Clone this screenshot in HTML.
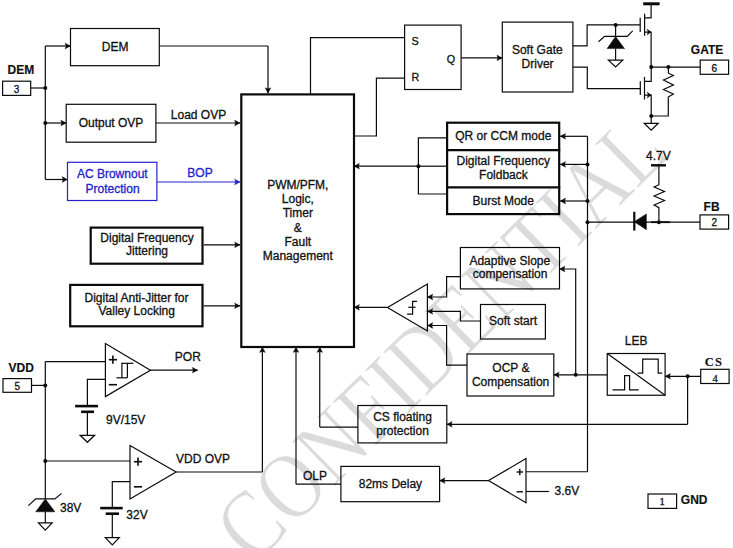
<!DOCTYPE html>
<html><head><meta charset="utf-8"><style>
html,body{margin:0;padding:0;background:#fff;}
body{width:733px;height:548px;overflow:hidden;position:relative;}
svg{position:absolute;left:0;top:0;}
</style></head><body>
<svg width="733" height="548" viewBox="0 0 733 548">
<rect x="0" y="0" width="733" height="548" fill="#fff"/>
<text x="0" y="0" font-family="'Liberation Serif', serif" font-size="100" fill="#dbdbdb" stroke="#fff" stroke-width="1.0" transform="matrix(0.56917,-0.55908,0.66297,0.67802,253.845,565.660)">CONFIDENTIAL</text>
<text x="7.50" y="74.30" font-family="&apos;Liberation Sans&apos;, sans-serif" font-size="12" font-weight="bold" text-anchor="start" fill="#111" stroke="#111" stroke-width="0.15" >DEM</text>
<rect x="2.60" y="81.20" width="28.10" height="14.20" fill="none" stroke="#0a0a0a" stroke-width="1.2"/>
<text x="16.60" y="93.00" font-family="&apos;Liberation Sans&apos;, sans-serif" font-size="10" font-weight="normal" text-anchor="middle" fill="#111" stroke="#111" stroke-width="0.3" >3</text>
<path d="M30.70,88.00 L45.30,88.00" fill="none" stroke="#0a0a0a" stroke-width="1.2" stroke-linejoin="miter" stroke-linecap="butt"/>
<path d="M45.30,46.00 L45.30,179.50" fill="none" stroke="#0a0a0a" stroke-width="1.2" stroke-linejoin="miter" stroke-linecap="butt"/>
<circle cx="45.30" cy="88.00" r="2.0" fill="#0a0a0a"/>
<circle cx="45.30" cy="123.00" r="2.0" fill="#0a0a0a"/>
<path d="M45.30,46.00 L70.50,46.00" fill="none" stroke="#0a0a0a" stroke-width="1.2" stroke-linejoin="miter" stroke-linecap="butt"/>
<polygon points="70.50,46.00 65.10,48.90 66.00,46.00 65.10,43.10" fill="#0a0a0a" stroke="#0a0a0a" stroke-width="0.3" stroke-linejoin="miter"/>
<path d="M45.30,123.00 L66.20,123.00" fill="none" stroke="#0a0a0a" stroke-width="1.2" stroke-linejoin="miter" stroke-linecap="butt"/>
<polygon points="66.20,123.00 60.80,125.90 61.70,123.00 60.80,120.10" fill="#0a0a0a" stroke="#0a0a0a" stroke-width="0.3" stroke-linejoin="miter"/>
<path d="M45.30,179.50 L67.50,179.50" fill="none" stroke="#0a0a0a" stroke-width="1.2" stroke-linejoin="miter" stroke-linecap="butt"/>
<polygon points="67.50,179.50 62.10,182.40 63.00,179.50 62.10,176.60" fill="#0a0a0a" stroke="#0a0a0a" stroke-width="0.3" stroke-linejoin="miter"/>
<rect x="70.50" y="28.50" width="88.80" height="37.20" fill="none" stroke="#0a0a0a" stroke-width="1.2"/>
<text x="115.20" y="51.00" font-family="&apos;Liberation Sans&apos;, sans-serif" font-size="12" font-weight="normal" text-anchor="middle" fill="#111" stroke="#111" stroke-width="0.3" >DEM</text>
<path d="M159.30,46.00 L268.00,46.00" fill="none" stroke="#0a0a0a" stroke-width="1.2" stroke-linejoin="miter" stroke-linecap="butt"/>
<path d="M268.00,46.00 L268.00,93.20" fill="none" stroke="#0a0a0a" stroke-width="1.2" stroke-linejoin="miter" stroke-linecap="butt"/>
<polygon points="268.00,93.20 265.10,87.80 268.00,88.70 270.90,87.80" fill="#0a0a0a" stroke="#0a0a0a" stroke-width="0.3" stroke-linejoin="miter"/>
<rect x="66.20" y="104.30" width="89.70" height="37.90" fill="none" stroke="#0a0a0a" stroke-width="1.2"/>
<text x="111.00" y="127.20" font-family="&apos;Liberation Sans&apos;, sans-serif" font-size="12" font-weight="normal" text-anchor="middle" fill="#111" stroke="#111" stroke-width="0.3" >Output OVP</text>
<path d="M155.90,123.00 L240.00,123.00" fill="none" stroke="#0a0a0a" stroke-width="1.2" stroke-linejoin="miter" stroke-linecap="butt"/>
<polygon points="240.00,123.00 234.60,125.90 235.50,123.00 234.60,120.10" fill="#0a0a0a" stroke="#0a0a0a" stroke-width="0.3" stroke-linejoin="miter"/>
<text x="198.50" y="118.70" font-family="&apos;Liberation Sans&apos;, sans-serif" font-size="12" font-weight="normal" text-anchor="middle" fill="#111" stroke="#111" stroke-width="0.3" >Load OVP</text>
<rect x="67.50" y="162.30" width="89.40" height="38.20" fill="none" stroke="#2222cc" stroke-width="1.2"/>
<text x="112.30" y="177.70" font-family="&apos;Liberation Sans&apos;, sans-serif" font-size="12" font-weight="normal" text-anchor="middle" fill="#2222cc" stroke="#2222cc" stroke-width="0.3" >AC Brownout</text>
<text x="112.60" y="193.00" font-family="&apos;Liberation Sans&apos;, sans-serif" font-size="12" font-weight="normal" text-anchor="middle" fill="#2222cc" stroke="#2222cc" stroke-width="0.3" >Protection</text>
<path d="M156.90,182.00 L240.00,182.00" fill="none" stroke="#2222cc" stroke-width="1.2" stroke-linejoin="miter" stroke-linecap="butt"/>
<polygon points="240.00,182.00 234.60,184.90 235.50,182.00 234.60,179.10" fill="#2222cc" stroke="#2222cc" stroke-width="0.3" stroke-linejoin="miter"/>
<text x="200.00" y="176.60" font-family="&apos;Liberation Sans&apos;, sans-serif" font-size="12" font-weight="normal" text-anchor="middle" fill="#2222cc" stroke="#2222cc" stroke-width="0.3" >BOP</text>
<rect x="90.70" y="227.60" width="111.80" height="36.10" fill="none" stroke="#0a0a0a" stroke-width="2.2"/>
<text x="147.00" y="241.90" font-family="&apos;Liberation Sans&apos;, sans-serif" font-size="12" font-weight="normal" text-anchor="middle" fill="#111" stroke="#111" stroke-width="0.3" >Digital Frequency</text>
<text x="147.00" y="255.00" font-family="&apos;Liberation Sans&apos;, sans-serif" font-size="12" font-weight="normal" text-anchor="middle" fill="#111" stroke="#111" stroke-width="0.3" >Jittering</text>
<path d="M203.70,244.80 L240.00,244.80" fill="none" stroke="#0a0a0a" stroke-width="1.2" stroke-linejoin="miter" stroke-linecap="butt"/>
<polygon points="240.00,244.80 234.60,247.70 235.50,244.80 234.60,241.90" fill="#0a0a0a" stroke="#0a0a0a" stroke-width="0.3" stroke-linejoin="miter"/>
<rect x="70.20" y="284.90" width="132.30" height="41.40" fill="none" stroke="#0a0a0a" stroke-width="2.2"/>
<text x="136.50" y="302.00" font-family="&apos;Liberation Sans&apos;, sans-serif" font-size="12" font-weight="normal" text-anchor="middle" fill="#111" stroke="#111" stroke-width="0.3" >Digital Anti-Jitter for</text>
<text x="136.70" y="315.20" font-family="&apos;Liberation Sans&apos;, sans-serif" font-size="12" font-weight="normal" text-anchor="middle" fill="#111" stroke="#111" stroke-width="0.3" >Valley Locking</text>
<path d="M203.70,305.80 L240.00,305.80" fill="none" stroke="#0a0a0a" stroke-width="1.2" stroke-linejoin="miter" stroke-linecap="butt"/>
<polygon points="240.00,305.80 234.60,308.70 235.50,305.80 234.60,302.90" fill="#0a0a0a" stroke="#0a0a0a" stroke-width="0.3" stroke-linejoin="miter"/>
<rect x="241.30" y="94.40" width="112.70" height="252.60" fill="none" stroke="#0a0a0a" stroke-width="2.2"/>
<text x="297.80" y="189.10" font-family="&apos;Liberation Sans&apos;, sans-serif" font-size="12" font-weight="normal" text-anchor="middle" fill="#111" stroke="#111" stroke-width="0.3" >PWM/PFM,</text>
<text x="297.80" y="202.70" font-family="&apos;Liberation Sans&apos;, sans-serif" font-size="12" font-weight="normal" text-anchor="middle" fill="#111" stroke="#111" stroke-width="0.3" >Logic,</text>
<text x="297.80" y="216.90" font-family="&apos;Liberation Sans&apos;, sans-serif" font-size="12" font-weight="normal" text-anchor="middle" fill="#111" stroke="#111" stroke-width="0.3" >Timer</text>
<text x="297.80" y="232.30" font-family="&apos;Liberation Sans&apos;, sans-serif" font-size="12" font-weight="normal" text-anchor="middle" fill="#111" stroke="#111" stroke-width="0.3" >&amp;</text>
<text x="297.80" y="246.00" font-family="&apos;Liberation Sans&apos;, sans-serif" font-size="12" font-weight="normal" text-anchor="middle" fill="#111" stroke="#111" stroke-width="0.3" >Fault</text>
<text x="297.80" y="259.60" font-family="&apos;Liberation Sans&apos;, sans-serif" font-size="12" font-weight="normal" text-anchor="middle" fill="#111" stroke="#111" stroke-width="0.3" >Management</text>
<text x="8.60" y="371.70" font-family="&apos;Liberation Sans&apos;, sans-serif" font-size="12" font-weight="bold" text-anchor="start" fill="#111" stroke="#111" stroke-width="0.15" >VDD</text>
<rect x="3.00" y="378.60" width="28.50" height="13.70" fill="none" stroke="#0a0a0a" stroke-width="1.2"/>
<text x="17.20" y="390.30" font-family="&apos;Liberation Sans&apos;, sans-serif" font-size="10" font-weight="normal" text-anchor="middle" fill="#111" stroke="#111" stroke-width="0.3" >5</text>
<path d="M31.50,385.40 L45.30,385.40" fill="none" stroke="#0a0a0a" stroke-width="1.2" stroke-linejoin="miter" stroke-linecap="butt"/>
<circle cx="45.30" cy="385.40" r="2.0" fill="#0a0a0a"/>
<path d="M45.30,361.60 L45.30,498.90" fill="none" stroke="#0a0a0a" stroke-width="1.2" stroke-linejoin="miter" stroke-linecap="butt"/>
<path d="M45.30,361.60 L105.40,361.60" fill="none" stroke="#0a0a0a" stroke-width="1.2" stroke-linejoin="miter" stroke-linecap="butt"/>
<polygon points="105.40,343.60 105.40,396.60 150.40,370.20" fill="none" stroke="#0a0a0a" stroke-width="1.2" stroke-linejoin="miter"/>
<path d="M108.80,359.70 L117.00,359.70" fill="none" stroke="#0a0a0a" stroke-width="1.6" stroke-linejoin="miter" stroke-linecap="butt"/>
<path d="M112.90,355.60 L112.90,363.80" fill="none" stroke="#0a0a0a" stroke-width="1.6" stroke-linejoin="miter" stroke-linecap="butt"/>
<path d="M108.80,384.70 L117.00,384.70" fill="none" stroke="#0a0a0a" stroke-width="1.6" stroke-linejoin="miter" stroke-linecap="butt"/>
<path d="M116.40,377.80 L127.40,377.80" fill="none" stroke="#0a0a0a" stroke-width="1.2" stroke-linejoin="miter" stroke-linecap="butt"/>
<path d="M121.40,363.30 L133.40,363.30" fill="none" stroke="#0a0a0a" stroke-width="1.2" stroke-linejoin="miter" stroke-linecap="butt"/>
<path d="M121.90,377.80 L121.90,363.30" fill="none" stroke="#0a0a0a" stroke-width="1.2" stroke-linejoin="miter" stroke-linecap="butt"/>
<path d="M127.40,377.80 L127.40,363.30" fill="none" stroke="#0a0a0a" stroke-width="1.2" stroke-linejoin="miter" stroke-linecap="butt"/>
<path d="M150.40,370.20 L197.70,370.20" fill="none" stroke="#0a0a0a" stroke-width="1.2" stroke-linejoin="miter" stroke-linecap="butt"/>
<polygon points="197.70,370.20 192.30,373.10 193.20,370.20 192.30,367.30" fill="#0a0a0a" stroke="#0a0a0a" stroke-width="0.3" stroke-linejoin="miter"/>
<text x="174.80" y="361.40" font-family="&apos;Liberation Sans&apos;, sans-serif" font-size="12" font-weight="normal" text-anchor="start" fill="#111" stroke="#111" stroke-width="0.3" >POR</text>
<path d="M105.40,379.40 L87.40,379.40 L87.40,406.10" fill="none" stroke="#0a0a0a" stroke-width="1.2" stroke-linejoin="miter" stroke-linecap="butt"/>
<path d="M75.10,406.10 L98.00,406.10" fill="none" stroke="#0a0a0a" stroke-width="2.6" stroke-linejoin="miter" stroke-linecap="butt"/>
<path d="M81.10,411.80 L94.00,411.80" fill="none" stroke="#0a0a0a" stroke-width="2.6" stroke-linejoin="miter" stroke-linecap="butt"/>
<path d="M87.40,411.80 L87.40,435.30" fill="none" stroke="#0a0a0a" stroke-width="1.2" stroke-linejoin="miter" stroke-linecap="butt"/>
<polygon points="80.15,435.30 94.65,435.30 87.40,442.30" fill="#fff" stroke="#0a0a0a" stroke-width="1.2" stroke-linejoin="miter"/>
<text x="106.00" y="423.80" font-family="&apos;Liberation Sans&apos;, sans-serif" font-size="12" font-weight="normal" text-anchor="start" fill="#111" stroke="#111" stroke-width="0.3" >9V/15V</text>
<circle cx="45.30" cy="461.00" r="2.0" fill="#0a0a0a"/>
<path d="M45.30,461.00 L130.00,461.00" fill="none" stroke="#0a0a0a" stroke-width="1.2" stroke-linejoin="miter" stroke-linecap="butt"/>
<polygon points="130.00,445.50 130.00,498.90 176.10,472.00" fill="none" stroke="#0a0a0a" stroke-width="1.2" stroke-linejoin="miter"/>
<path d="M133.90,461.70 L142.10,461.70" fill="none" stroke="#0a0a0a" stroke-width="1.6" stroke-linejoin="miter" stroke-linecap="butt"/>
<path d="M138.00,457.60 L138.00,465.80" fill="none" stroke="#0a0a0a" stroke-width="1.6" stroke-linejoin="miter" stroke-linecap="butt"/>
<path d="M133.90,486.80 L142.10,486.80" fill="none" stroke="#0a0a0a" stroke-width="1.6" stroke-linejoin="miter" stroke-linecap="butt"/>
<path d="M130.00,481.60 L112.30,481.60 L112.30,508.10" fill="none" stroke="#0a0a0a" stroke-width="1.2" stroke-linejoin="miter" stroke-linecap="butt"/>
<path d="M100.20,508.10 L122.70,508.10" fill="none" stroke="#0a0a0a" stroke-width="2.6" stroke-linejoin="miter" stroke-linecap="butt"/>
<path d="M105.70,513.70 L119.00,513.70" fill="none" stroke="#0a0a0a" stroke-width="2.6" stroke-linejoin="miter" stroke-linecap="butt"/>
<path d="M112.30,513.70 L112.30,537.60" fill="none" stroke="#0a0a0a" stroke-width="1.2" stroke-linejoin="miter" stroke-linecap="butt"/>
<polygon points="105.30,537.60 119.30,537.60 112.30,545.00" fill="#fff" stroke="#0a0a0a" stroke-width="1.2" stroke-linejoin="miter"/>
<text x="126.30" y="519.20" font-family="&apos;Liberation Sans&apos;, sans-serif" font-size="12" font-weight="normal" text-anchor="start" fill="#111" stroke="#111" stroke-width="0.3" >32V</text>
<path d="M176.10,472.00 L262.40,472.00" fill="none" stroke="#0a0a0a" stroke-width="1.2" stroke-linejoin="miter" stroke-linecap="butt"/>
<path d="M262.40,472.00 L262.40,347.00" fill="none" stroke="#0a0a0a" stroke-width="1.2" stroke-linejoin="miter" stroke-linecap="butt"/>
<polygon points="262.40,347.00 265.30,352.40 262.40,351.50 259.50,352.40" fill="#0a0a0a" stroke="#0a0a0a" stroke-width="0.3" stroke-linejoin="miter"/>
<text x="176.00" y="462.80" font-family="&apos;Liberation Sans&apos;, sans-serif" font-size="12" font-weight="normal" text-anchor="start" fill="#111" stroke="#111" stroke-width="0.3" >VDD OVP</text>
<polygon points="45.30,498.90 35.70,511.80 54.90,511.80" fill="#0a0a0a" stroke="#0a0a0a" stroke-width="0.5" stroke-linejoin="miter"/>
<path d="M28.40,505.60 L35.70,498.90 L54.90,498.90 L61.50,493.40" fill="none" stroke="#0a0a0a" stroke-width="1.2" stroke-linejoin="miter" stroke-linecap="butt"/>
<path d="M45.30,511.80 L45.30,522.90" fill="none" stroke="#0a0a0a" stroke-width="1.2" stroke-linejoin="miter" stroke-linecap="butt"/>
<polygon points="38.45,522.90 52.15,522.90 45.30,530.20" fill="#fff" stroke="#0a0a0a" stroke-width="1.2" stroke-linejoin="miter"/>
<text x="60.00" y="511.80" font-family="&apos;Liberation Sans&apos;, sans-serif" font-size="12" font-weight="normal" text-anchor="start" fill="#111" stroke="#111" stroke-width="0.3" >38V</text>
<rect x="340.90" y="466.40" width="98.70" height="35.30" fill="none" stroke="#0a0a0a" stroke-width="1.2"/>
<text x="390.40" y="487.80" font-family="&apos;Liberation Sans&apos;, sans-serif" font-size="12" font-weight="normal" text-anchor="middle" fill="#111" stroke="#111" stroke-width="0.3" >82ms Delay</text>
<path d="M340.90,484.20 L296.00,484.20" fill="none" stroke="#0a0a0a" stroke-width="1.2" stroke-linejoin="miter" stroke-linecap="butt"/>
<path d="M296.00,484.20 L296.00,347.00" fill="none" stroke="#0a0a0a" stroke-width="1.2" stroke-linejoin="miter" stroke-linecap="butt"/>
<polygon points="296.00,347.00 298.90,352.40 296.00,351.50 293.10,352.40" fill="#0a0a0a" stroke="#0a0a0a" stroke-width="0.3" stroke-linejoin="miter"/>
<text x="303.00" y="480.20" font-family="&apos;Liberation Sans&apos;, sans-serif" font-size="12" font-weight="normal" text-anchor="start" fill="#111" stroke="#111" stroke-width="0.3" >OLP</text>
<rect x="357.90" y="405.50" width="88.90" height="37.40" fill="none" stroke="#0a0a0a" stroke-width="1.2"/>
<text x="402.50" y="420.80" font-family="&apos;Liberation Sans&apos;, sans-serif" font-size="12" font-weight="normal" text-anchor="middle" fill="#111" stroke="#111" stroke-width="0.3" >CS floating</text>
<text x="402.50" y="434.50" font-family="&apos;Liberation Sans&apos;, sans-serif" font-size="12" font-weight="normal" text-anchor="middle" fill="#111" stroke="#111" stroke-width="0.3" >protection</text>
<path d="M357.90,427.10 L319.75,427.10" fill="none" stroke="#0a0a0a" stroke-width="1.2" stroke-linejoin="miter" stroke-linecap="butt"/>
<path d="M319.75,427.10 L319.75,347.00" fill="none" stroke="#0a0a0a" stroke-width="1.2" stroke-linejoin="miter" stroke-linecap="butt"/>
<polygon points="319.75,347.00 322.65,352.40 319.75,351.50 316.85,352.40" fill="#0a0a0a" stroke="#0a0a0a" stroke-width="0.3" stroke-linejoin="miter"/>
<polygon points="526.00,458.50 526.00,502.75 488.50,480.60" fill="none" stroke="#0a0a0a" stroke-width="1.2" stroke-linejoin="miter"/>
<path d="M516.65,472.00 L522.95,472.00" fill="none" stroke="#0a0a0a" stroke-width="1.4" stroke-linejoin="miter" stroke-linecap="butt"/>
<path d="M519.80,468.85 L519.80,475.15" fill="none" stroke="#0a0a0a" stroke-width="1.4" stroke-linejoin="miter" stroke-linecap="butt"/>
<path d="M516.65,491.80 L522.95,491.80" fill="none" stroke="#0a0a0a" stroke-width="1.4" stroke-linejoin="miter" stroke-linecap="butt"/>
<path d="M488.50,480.60 L439.60,480.60" fill="none" stroke="#0a0a0a" stroke-width="1.2" stroke-linejoin="miter" stroke-linecap="butt"/>
<polygon points="439.60,480.60 445.00,477.70 444.10,480.60 445.00,483.50" fill="#0a0a0a" stroke="#0a0a0a" stroke-width="0.3" stroke-linejoin="miter"/>
<path d="M526.00,491.50 L549.10,491.50" fill="none" stroke="#0a0a0a" stroke-width="1.2" stroke-linejoin="miter" stroke-linecap="butt"/>
<text x="554.50" y="495.30" font-family="&apos;Liberation Sans&apos;, sans-serif" font-size="12" font-weight="normal" text-anchor="start" fill="#111" stroke="#111" stroke-width="0.3" >3.6V</text>
<path d="M587.50,471.75 L526.00,471.75" fill="none" stroke="#0a0a0a" stroke-width="1.2" stroke-linejoin="miter" stroke-linecap="butt"/>
<path d="M310.50,94.40 L310.50,37.70 L404.60,37.70" fill="none" stroke="#0a0a0a" stroke-width="1.2" stroke-linejoin="miter" stroke-linecap="butt"/>
<rect x="404.60" y="25.10" width="56.50" height="64.40" fill="none" stroke="#0a0a0a" stroke-width="1.2"/>
<text x="411.40" y="44.50" font-family="&apos;Liberation Sans&apos;, sans-serif" font-size="10.8" font-weight="normal" text-anchor="start" fill="#111" stroke="#111" stroke-width="0.3" >S</text>
<text x="411.40" y="80.60" font-family="&apos;Liberation Sans&apos;, sans-serif" font-size="10.8" font-weight="normal" text-anchor="start" fill="#111" stroke="#111" stroke-width="0.3" >R</text>
<text x="446.70" y="63.00" font-family="&apos;Liberation Sans&apos;, sans-serif" font-size="10.8" font-weight="normal" text-anchor="start" fill="#111" stroke="#111" stroke-width="0.3" >Q</text>
<path d="M404.60,78.20 L376.40,78.20 L376.40,136.00 L354.00,136.00" fill="none" stroke="#0a0a0a" stroke-width="1.2" stroke-linejoin="miter" stroke-linecap="butt"/>
<path d="M461.10,57.90 L502.30,57.90" fill="none" stroke="#0a0a0a" stroke-width="1.2" stroke-linejoin="miter" stroke-linecap="butt"/>
<polygon points="502.30,57.90 496.90,60.80 497.80,57.90 496.90,55.00" fill="#0a0a0a" stroke="#0a0a0a" stroke-width="0.3" stroke-linejoin="miter"/>
<rect x="502.30" y="22.10" width="70.60" height="69.90" fill="none" stroke="#0a0a0a" stroke-width="1.2"/>
<text x="537.30" y="53.60" font-family="&apos;Liberation Sans&apos;, sans-serif" font-size="12" font-weight="normal" text-anchor="middle" fill="#111" stroke="#111" stroke-width="0.3" >Soft Gate</text>
<text x="537.60" y="67.50" font-family="&apos;Liberation Sans&apos;, sans-serif" font-size="12" font-weight="normal" text-anchor="middle" fill="#111" stroke="#111" stroke-width="0.3" >Driver</text>
<path d="M572.90,45.80 L587.10,45.80 L587.10,24.90 L640.20,24.90" fill="none" stroke="#0a0a0a" stroke-width="1.2" stroke-linejoin="miter" stroke-linecap="butt"/>
<path d="M572.90,67.10 L587.30,67.10 L587.30,88.60 L640.30,88.60" fill="none" stroke="#0a0a0a" stroke-width="1.2" stroke-linejoin="miter" stroke-linecap="butt"/>
<circle cx="615.60" cy="24.90" r="2.0" fill="#0a0a0a"/>
<path d="M615.60,24.90 L615.60,36.50" fill="none" stroke="#0a0a0a" stroke-width="1.2" stroke-linejoin="miter" stroke-linecap="butt"/>
<polygon points="615.60,36.50 607.10,48.60 624.50,48.60" fill="#0a0a0a" stroke="#0a0a0a" stroke-width="0.5" stroke-linejoin="miter"/>
<path d="M598.50,41.70 L604.60,36.30 L627.20,36.30 L632.70,30.80" fill="none" stroke="#0a0a0a" stroke-width="1.2" stroke-linejoin="miter" stroke-linecap="butt"/>
<path d="M615.60,48.60 L615.60,60.20" fill="none" stroke="#0a0a0a" stroke-width="1.2" stroke-linejoin="miter" stroke-linecap="butt"/>
<polygon points="608.40,60.20 622.80,60.20 615.60,67.00" fill="#fff" stroke="#0a0a0a" stroke-width="1.2" stroke-linejoin="miter"/>
<path d="M640.20,17.80 L640.20,32.10" fill="none" stroke="#0a0a0a" stroke-width="1.2" stroke-linejoin="miter" stroke-linecap="butt"/>
<path d="M644.60,13.70 L644.60,35.80" fill="none" stroke="#0a0a0a" stroke-width="1.2" stroke-linejoin="miter" stroke-linecap="butt"/>
<path d="M644.60,17.80 L651.10,17.80 L651.10,3.80" fill="none" stroke="#0a0a0a" stroke-width="1.2" stroke-linejoin="miter" stroke-linecap="butt"/>
<path d="M643.20,3.80 L659.60,3.80" fill="none" stroke="#0a0a0a" stroke-width="3.0" stroke-linejoin="miter" stroke-linecap="butt"/>
<path d="M644.60,32.10 L651.10,32.10 L651.10,67.10" fill="none" stroke="#0a0a0a" stroke-width="1.2" stroke-linejoin="miter" stroke-linecap="butt"/>
<polygon points="651.10,32.10 647.10,35.10 648.00,32.10 647.10,29.10" fill="#0a0a0a" stroke="#0a0a0a" stroke-width="0.3" stroke-linejoin="miter"/>
<path d="M640.30,81.30 L640.30,95.10" fill="none" stroke="#0a0a0a" stroke-width="1.2" stroke-linejoin="miter" stroke-linecap="butt"/>
<path d="M644.50,76.90 L644.50,99.50" fill="none" stroke="#0a0a0a" stroke-width="1.2" stroke-linejoin="miter" stroke-linecap="butt"/>
<path d="M644.50,81.30 L651.20,81.30 L651.20,67.10" fill="none" stroke="#0a0a0a" stroke-width="1.2" stroke-linejoin="miter" stroke-linecap="butt"/>
<path d="M644.50,95.10 L651.20,95.10 L651.20,116.00" fill="none" stroke="#0a0a0a" stroke-width="1.2" stroke-linejoin="miter" stroke-linecap="butt"/>
<polygon points="651.20,95.10 647.20,98.10 648.10,95.10 647.20,92.10" fill="#0a0a0a" stroke="#0a0a0a" stroke-width="0.3" stroke-linejoin="miter"/>
<circle cx="651.20" cy="67.10" r="2.0" fill="#0a0a0a"/>
<circle cx="668.40" cy="67.10" r="2.0" fill="#0a0a0a"/>
<circle cx="651.20" cy="116.00" r="2.0" fill="#0a0a0a"/>
<path d="M651.20,67.10 L700.20,67.10" fill="none" stroke="#0a0a0a" stroke-width="1.2" stroke-linejoin="miter" stroke-linecap="butt"/>
<path d="M651.20,116.00 L668.30,116.00 L668.30,98.00" fill="none" stroke="#0a0a0a" stroke-width="1.2" stroke-linejoin="miter" stroke-linecap="butt"/>
<path d="M668.40,67.10 L668.40,73.20 L673.40,75.50 L663.50,80.00 L673.40,85.00 L663.50,89.50 L673.40,94.00 L668.30,97.00 L668.30,98.00" fill="none" stroke="#0a0a0a" stroke-width="1.2" stroke-linejoin="miter" stroke-linecap="butt"/>
<path d="M651.20,116.00 L651.20,123.30" fill="none" stroke="#0a0a0a" stroke-width="1.2" stroke-linejoin="miter" stroke-linecap="butt"/>
<polygon points="644.20,123.30 658.20,123.30 651.20,130.20" fill="#fff" stroke="#0a0a0a" stroke-width="1.2" stroke-linejoin="miter"/>
<text x="690.80" y="53.50" font-family="&apos;Liberation Sans&apos;, sans-serif" font-size="12" font-weight="bold" text-anchor="start" fill="#111" stroke="#111" stroke-width="0.15" >GATE</text>
<rect x="700.20" y="60.10" width="28.40" height="14.20" fill="none" stroke="#0a0a0a" stroke-width="1.2"/>
<text x="714.40" y="71.80" font-family="&apos;Liberation Sans&apos;, sans-serif" font-size="10" font-weight="normal" text-anchor="middle" fill="#111" stroke="#111" stroke-width="0.3" >6</text>
<rect x="447.10" y="122.70" width="112.10" height="91.40" fill="none" stroke="#0a0a0a" stroke-width="2.2"/>
<path d="M446.10,150.10 L560.20,150.10" fill="none" stroke="#0a0a0a" stroke-width="2.2" stroke-linejoin="miter" stroke-linecap="butt"/>
<path d="M446.10,187.30 L560.20,187.30" fill="none" stroke="#0a0a0a" stroke-width="2.2" stroke-linejoin="miter" stroke-linecap="butt"/>
<text x="503.30" y="139.90" font-family="&apos;Liberation Sans&apos;, sans-serif" font-size="12" font-weight="normal" text-anchor="middle" fill="#111" stroke="#111" stroke-width="0.3" >QR or CCM mode</text>
<text x="503.20" y="164.90" font-family="&apos;Liberation Sans&apos;, sans-serif" font-size="12" font-weight="normal" text-anchor="middle" fill="#111" stroke="#111" stroke-width="0.3" >Digital Frequency</text>
<text x="503.40" y="179.20" font-family="&apos;Liberation Sans&apos;, sans-serif" font-size="12" font-weight="normal" text-anchor="middle" fill="#111" stroke="#111" stroke-width="0.3" >Foldback</text>
<text x="503.30" y="204.50" font-family="&apos;Liberation Sans&apos;, sans-serif" font-size="12" font-weight="normal" text-anchor="middle" fill="#111" stroke="#111" stroke-width="0.3" >Burst Mode</text>
<path d="M446.10,137.80 L418.40,137.80 L418.40,194.00 L446.10,194.00" fill="none" stroke="#0a0a0a" stroke-width="1.2" stroke-linejoin="miter" stroke-linecap="butt"/>
<path d="M446.10,166.20 L418.40,166.20" fill="none" stroke="#0a0a0a" stroke-width="1.2" stroke-linejoin="miter" stroke-linecap="butt"/>
<path d="M418.40,166.20 L354.00,166.20" fill="none" stroke="#0a0a0a" stroke-width="1.2" stroke-linejoin="miter" stroke-linecap="butt"/>
<polygon points="354.00,166.20 359.40,163.30 358.50,166.20 359.40,169.10" fill="#0a0a0a" stroke="#0a0a0a" stroke-width="0.3" stroke-linejoin="miter"/>
<circle cx="418.40" cy="166.20" r="2.0" fill="#0a0a0a"/>
<path d="M587.50,136.30 L587.50,471.75" fill="none" stroke="#0a0a0a" stroke-width="1.2" stroke-linejoin="miter" stroke-linecap="butt"/>
<path d="M587.50,136.30 L560.20,136.30" fill="none" stroke="#0a0a0a" stroke-width="1.2" stroke-linejoin="miter" stroke-linecap="butt"/>
<polygon points="560.20,136.30 565.60,133.40 564.70,136.30 565.60,139.20" fill="#0a0a0a" stroke="#0a0a0a" stroke-width="0.3" stroke-linejoin="miter"/>
<path d="M587.50,164.40 L560.20,164.40" fill="none" stroke="#0a0a0a" stroke-width="1.2" stroke-linejoin="miter" stroke-linecap="butt"/>
<polygon points="560.20,164.40 565.60,161.50 564.70,164.40 565.60,167.30" fill="#0a0a0a" stroke="#0a0a0a" stroke-width="0.3" stroke-linejoin="miter"/>
<path d="M587.50,201.00 L560.20,201.00" fill="none" stroke="#0a0a0a" stroke-width="1.2" stroke-linejoin="miter" stroke-linecap="butt"/>
<polygon points="560.20,201.00 565.60,198.10 564.70,201.00 565.60,203.90" fill="#0a0a0a" stroke="#0a0a0a" stroke-width="0.3" stroke-linejoin="miter"/>
<circle cx="587.50" cy="164.40" r="2.0" fill="#0a0a0a"/>
<circle cx="587.50" cy="201.00" r="2.0" fill="#0a0a0a"/>
<circle cx="587.50" cy="222.20" r="2.0" fill="#0a0a0a"/>
<path d="M587.50,222.20 L700.00,222.20" fill="none" stroke="#0a0a0a" stroke-width="1.2" stroke-linejoin="miter" stroke-linecap="butt"/>
<polygon points="634.30,221.80 646.40,213.90 646.40,229.70" fill="#0a0a0a" stroke="#0a0a0a" stroke-width="0.5" stroke-linejoin="miter"/>
<path d="M634.30,211.80 L634.30,230.60" fill="none" stroke="#0a0a0a" stroke-width="2.2" stroke-linejoin="miter" stroke-linecap="butt"/>
<path d="M651.00,222.20 L669.80,222.20" fill="none" stroke="#0a0a0a" stroke-width="1.8" stroke-linejoin="miter" stroke-linecap="butt"/>
<circle cx="658.90" cy="222.20" r="2.0" fill="#0a0a0a"/>
<path d="M658.90,222.20 L658.90,207.60 L654.10,205.00 L664.50,200.50 L654.10,196.00 L664.50,191.50 L654.10,187.00 L658.90,184.70 L658.90,165.30" fill="none" stroke="#0a0a0a" stroke-width="1.2" stroke-linejoin="miter" stroke-linecap="butt"/>
<path d="M651.00,165.30 L666.00,165.30" fill="none" stroke="#0a0a0a" stroke-width="2.4" stroke-linejoin="miter" stroke-linecap="butt"/>
<text x="658.40" y="160.00" font-family="&apos;Liberation Sans&apos;, sans-serif" font-size="12" font-weight="normal" text-anchor="middle" fill="#111" stroke="#111" stroke-width="0.3" >4.7V</text>
<text x="703.60" y="211.40" font-family="&apos;Liberation Sans&apos;, sans-serif" font-size="12" font-weight="bold" text-anchor="start" fill="#111" stroke="#111" stroke-width="0.15" >FB</text>
<rect x="700.00" y="214.90" width="28.60" height="14.20" fill="none" stroke="#0a0a0a" stroke-width="1.2"/>
<text x="714.20" y="226.40" font-family="&apos;Liberation Sans&apos;, sans-serif" font-size="10" font-weight="normal" text-anchor="middle" fill="#111" stroke="#111" stroke-width="0.3" >2</text>
<rect x="460.40" y="247.50" width="99.10" height="41.40" fill="none" stroke="#0a0a0a" stroke-width="1.2"/>
<text x="509.80" y="264.90" font-family="&apos;Liberation Sans&apos;, sans-serif" font-size="12" font-weight="normal" text-anchor="middle" fill="#111" stroke="#111" stroke-width="0.3" >Adaptive Slope</text>
<text x="510.10" y="278.40" font-family="&apos;Liberation Sans&apos;, sans-serif" font-size="12" font-weight="normal" text-anchor="middle" fill="#111" stroke="#111" stroke-width="0.3" >compensation</text>
<rect x="480.50" y="304.50" width="64.90" height="34.50" fill="none" stroke="#0a0a0a" stroke-width="1.2"/>
<text x="513.10" y="324.90" font-family="&apos;Liberation Sans&apos;, sans-serif" font-size="12" font-weight="normal" text-anchor="middle" fill="#111" stroke="#111" stroke-width="0.3" >Soft start</text>
<rect x="467.00" y="354.00" width="86.80" height="42.00" fill="none" stroke="#0a0a0a" stroke-width="1.2"/>
<text x="510.90" y="372.00" font-family="&apos;Liberation Sans&apos;, sans-serif" font-size="12" font-weight="normal" text-anchor="middle" fill="#111" stroke="#111" stroke-width="0.3" >OCP &amp;</text>
<text x="510.60" y="385.60" font-family="&apos;Liberation Sans&apos;, sans-serif" font-size="12" font-weight="normal" text-anchor="middle" fill="#111" stroke="#111" stroke-width="0.3" >Compensation</text>
<polygon points="427.40,284.10 427.40,331.00 387.50,307.50" fill="none" stroke="#0a0a0a" stroke-width="1.2" stroke-linejoin="miter"/>
<path d="M387.50,307.30 L354.00,307.30" fill="none" stroke="#0a0a0a" stroke-width="1.2" stroke-linejoin="miter" stroke-linecap="butt"/>
<polygon points="354.00,307.30 359.40,304.40 358.50,307.30 359.40,310.20" fill="#0a0a0a" stroke="#0a0a0a" stroke-width="0.3" stroke-linejoin="miter"/>
<path d="M407.10,314.10 L412.60,314.10 L412.60,301.30 L417.10,301.30" fill="none" stroke="#0a0a0a" stroke-width="1.2" stroke-linejoin="miter" stroke-linecap="butt"/>
<path d="M408.30,307.30 L415.60,307.30" fill="none" stroke="#0a0a0a" stroke-width="1.2" stroke-linejoin="miter" stroke-linecap="butt"/>
<path d="M460.40,276.60 L446.60,276.60 L446.60,297.00 L427.40,297.00" fill="none" stroke="#0a0a0a" stroke-width="1.2" stroke-linejoin="miter" stroke-linecap="butt"/>
<polygon points="427.40,297.00 432.80,294.10 431.90,297.00 432.80,299.90" fill="#0a0a0a" stroke="#0a0a0a" stroke-width="0.3" stroke-linejoin="miter"/>
<path d="M480.50,321.00 L460.40,321.00 L460.40,311.40 L427.40,311.40" fill="none" stroke="#0a0a0a" stroke-width="1.2" stroke-linejoin="miter" stroke-linecap="butt"/>
<polygon points="427.40,311.40 432.80,308.50 431.90,311.40 432.80,314.30" fill="#0a0a0a" stroke="#0a0a0a" stroke-width="0.3" stroke-linejoin="miter"/>
<path d="M467.00,365.10 L446.60,365.10 L446.60,325.50 L427.40,325.50" fill="none" stroke="#0a0a0a" stroke-width="1.2" stroke-linejoin="miter" stroke-linecap="butt"/>
<polygon points="427.40,325.50 432.80,322.60 431.90,325.50 432.80,328.40" fill="#0a0a0a" stroke="#0a0a0a" stroke-width="0.3" stroke-linejoin="miter"/>
<path d="M575.70,375.00 L575.70,269.00 L559.50,269.00" fill="none" stroke="#0a0a0a" stroke-width="1.2" stroke-linejoin="miter" stroke-linecap="butt"/>
<polygon points="559.50,269.00 564.90,266.10 564.00,269.00 564.90,271.90" fill="#0a0a0a" stroke="#0a0a0a" stroke-width="0.3" stroke-linejoin="miter"/>
<path d="M607.25,374.80 L553.80,374.80" fill="none" stroke="#0a0a0a" stroke-width="1.2" stroke-linejoin="miter" stroke-linecap="butt"/>
<polygon points="553.80,374.80 559.20,371.90 558.30,374.80 559.20,377.70" fill="#0a0a0a" stroke="#0a0a0a" stroke-width="0.3" stroke-linejoin="miter"/>
<circle cx="575.70" cy="374.80" r="2.0" fill="#0a0a0a"/>
<rect x="607.25" y="353.50" width="57.85" height="41.75" fill="none" stroke="#0a0a0a" stroke-width="1.2"/>
<path d="M607.25,353.50 L665.10,395.25" fill="none" stroke="#0a0a0a" stroke-width="1.2" stroke-linejoin="miter" stroke-linecap="butt"/>
<path d="M637.60,373.10 L642.70,373.10 L642.70,359.10 L658.20,359.10 L658.20,373.10 L662.20,373.10" fill="none" stroke="#0a0a0a" stroke-width="1.2" stroke-linejoin="miter" stroke-linecap="butt"/>
<path d="M612.60,389.90 L624.60,389.90 L624.60,375.60 L629.60,375.60 L629.60,389.90 L638.70,389.90" fill="none" stroke="#0a0a0a" stroke-width="1.2" stroke-linejoin="miter" stroke-linecap="butt"/>
<text x="636.20" y="344.60" font-family="&apos;Liberation Sans&apos;, sans-serif" font-size="12" font-weight="normal" text-anchor="middle" fill="#111" stroke="#111" stroke-width="0.3" >LEB</text>
<text x="714.00" y="365.70" font-family="&apos;Liberation Serif&apos;, serif" font-size="12.5" font-weight="bold" text-anchor="middle" fill="#111" stroke="#111" stroke-width="0.15" letter-spacing="1.2">CS</text>
<rect x="700.70" y="369.30" width="28.40" height="14.20" fill="none" stroke="#0a0a0a" stroke-width="1.2"/>
<text x="715.00" y="381.60" font-family="&apos;Liberation Serif&apos;, serif" font-size="10.5" font-weight="normal" text-anchor="middle" fill="#111" stroke="#111" stroke-width="0.3" >4</text>
<path d="M700.70,376.30 L665.10,376.30" fill="none" stroke="#0a0a0a" stroke-width="1.2" stroke-linejoin="miter" stroke-linecap="butt"/>
<polygon points="665.10,376.30 670.50,373.40 669.60,376.30 670.50,379.20" fill="#0a0a0a" stroke="#0a0a0a" stroke-width="0.3" stroke-linejoin="miter"/>
<circle cx="687.60" cy="376.30" r="2.0" fill="#0a0a0a"/>
<path d="M687.60,376.30 L687.60,424.30" fill="none" stroke="#0a0a0a" stroke-width="1.2" stroke-linejoin="miter" stroke-linecap="butt"/>
<path d="M687.60,424.30 L446.80,424.30" fill="none" stroke="#0a0a0a" stroke-width="1.2" stroke-linejoin="miter" stroke-linecap="butt"/>
<polygon points="446.80,424.30 452.20,421.40 451.30,424.30 452.20,427.20" fill="#0a0a0a" stroke="#0a0a0a" stroke-width="0.3" stroke-linejoin="miter"/>
<rect x="648.00" y="494.00" width="28.60" height="14.40" fill="none" stroke="#0a0a0a" stroke-width="1.2"/>
<text x="662.20" y="505.40" font-family="&apos;Liberation Serif&apos;, serif" font-size="10.5" font-weight="normal" text-anchor="middle" fill="#111" stroke="#111" stroke-width="0.3" >1</text>
<text x="680.80" y="503.70" font-family="&apos;Liberation Sans&apos;, sans-serif" font-size="12" font-weight="bold" text-anchor="start" fill="#111" stroke="#111" stroke-width="0.15" >GND</text>
</svg>
</body></html>
